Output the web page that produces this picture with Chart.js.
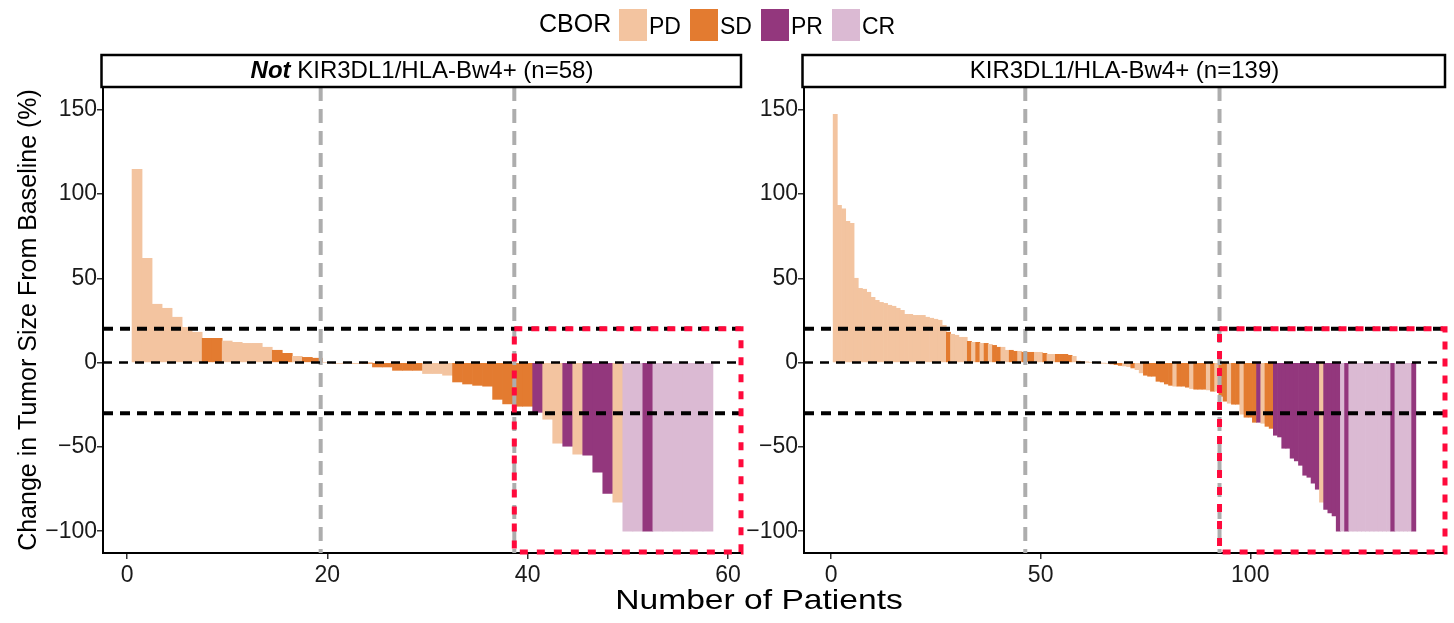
<!DOCTYPE html>
<html lang="en">
<head>
<meta charset="UTF-8">
<title>CBOR waterfall</title>
<script src="https://cdn.jsdelivr.net/npm/chart.js@4.4.1/dist/chart.umd.min.js"></script>
<style>
    body {
        margin: 0;
        background: #fff;
        font-family: 'Liberation Sans', Arial, Helvetica, sans-serif;
    }
    #wrap {
        position: relative;
        width: 1454px;
        height: 623px;
        overflow: hidden;
    }
    #leftChart { position: absolute; left: 0; top: 0; }
    #rightChart { position: absolute; left: 745px; top: 0; }
    #legend {
        position: absolute;
        left: 539px;
        top: 9px;
        display: flex;
        align-items: center;
        height: 32px;
        color: #000;
    }
    #legend .ttl { font-size: 25px; width: 80px; margin-top: -3px; }
    #legend .item { display: flex; align-items: center; width: 71px; }
    #legend .sw { width: 28px; height: 32px; margin-right: 2px; }
    #legend .lab { font-size: 23px; margin-top: 3px; }
    #xTitle {
        position: absolute;
        left: 559px;
        width: 400px;
        top: 584px;
        text-align: center;
        font-size: 28px;
        color: #000;
        transform: scaleX(1.2);
    }
</style>
</head>
<body>
<div id="wrap">
    <canvas id="leftChart" width="746" height="623"></canvas>
    <canvas id="rightChart" width="709" height="623"></canvas>
    <div id="legend"></div>
    <div id="xTitle">Number of Patients</div>
</div>

<script>
    // response categories and colours
    const responses = ['PD', 'SD', 'PR', 'CR'];
    const responseColors = ['#F3C4A0', '#E37B30', '#93377D', '#DBBAD3'];

    // Not KIR3DL1/HLA-Bw4+ (n=58): % change per patient, sorted
    const leftValues = [
        114.6, 61.8, 34.6, 32.2, 26.9, 20.9, 18.0, 14.4, 14.4, 12.8,
        12.0, 11.4, 11.4, 9.1, 7.3, 5.5, 3.7, 3.1, 2.6, 0,
        -0.5, -0.3, -0.6, -0.2, -2.6, -2.6, -4.6, -4.6, -4.6, -6.5,
        -6.5, -7.5, -11.5, -12.7, -13.5, -14.0, -21.8, -24.5, -25.9, -25.9,
        -29.5, -33.6, -47.8, -49.6, -54.3, -54.9, -65.0, -77.5, -82.8, -100,
        -100, -100, -100, -100, -100, -100, -100, -100
    ];
    const leftResp = [
        'PD','PD','PD','PD','PD','PD','PD','SD','SD','PD',
        'PD','PD','PD','PD','SD','SD','PD','SD','SD','PD',
        'PD','PD','PD','SD','SD','SD','SD','SD','SD','PD',
        'PD','PD','SD','SD','SD','SD','SD','SD','SD','SD',
        'PR','PD','PD','PR','PD','PR','PR','PR','PD','CR',
        'CR','PR','CR','CR','CR','CR','CR','CR'
    ];

    // KIR3DL1/HLA-Bw4+ (n=139)
    const rightValues = [
        147.2, 93.2, 91.1, 83.8, 82.6, 50.0, 44.0, 43.5, 41.7, 38.7,
        36.9, 35.7, 35.1, 34.0, 33.4, 32.2, 31.0, 28.6, 28.6, 28.0,
        28.0, 28.0, 26.9, 26.3, 25.7, 25.1, 22.1, 18.0, 16.8, 16.2,
        15.0, 15.0, 12.6, 12.0, 12.0, 11.4, 11.4, 10.8, 10.2, 9.1,
        9.1, 7.3, 7.3, 6.7, 6.7, 6.1, 6.1, 6.1, 6.1, 6.1,
        5.5, 4.9, 4.9, 4.9, 4.9, 4.9, 4.3, 3.7, 0.8, 0.5,
        0.2, 0, 0, -0.2, -0.3, -0.5, -0.8, -1.2, -1.7, -2.0,
        -2.4, -3.2, -4.2, -6.1, -7.5, -8.1, -8.1, -11.1, -11.5, -12.7,
        -13.5, -14.0, -14.0, -14.0, -14.6, -15.4, -15.8, -15.8, -15.8, -16.2,
        -17.0, -17.0, -20.0, -22.9, -24.1, -24.7, -24.7, -30.6, -32.4, -32.4,
        -35.4, -35.4, -36.0, -37.8, -39.0, -43.1, -44.1, -50.8, -50.8, -56.7,
        -58.3, -60.9, -66.8, -68.0, -71.5, -75.1, -82.8, -87.0, -89.1, -90.9,
        -100, -100, -100, -100, -100, -100, -100, -100, -100, -100,
        -100, -100, -100, -100, -100, -100, -100, -100, -100
    ];
    const rightResp = [
        'PD','PD','PD','PD','PD','PD','PD','PD','PD','PD',
        'PD','PD','PD','PD','PD','PD','PD','PD','PD','PD',
        'PD','PD','PD','PD','PD','PD','PD','SD','PD','PD',
        'PD','PD','SD','PD','SD','PD','SD','PD','SD','SD',
        'PD','PD','SD','SD','PD','SD','SD','SD','PD','PD',
        'SD','PD','PD','SD','SD','SD','SD','PD','SD','SD',
        'PD','PD','PD','PD','PD','PD','SD','SD','SD','PD',
        'PD','SD','PD','PD','SD','SD','SD','SD','SD','SD',
        'SD','PD','SD','SD','SD','PD','SD','SD','SD','PD',
        'SD','PD','SD','SD','PD','SD','SD','PD','SD','SD',
        'SD','PR','PD','SD','SD','PR','PR','PR','PR','PR',
        'PR','PR','PR','PR','PR','PR','PD','PR','PR','PR',
        'PR','CR','PR','CR','CR','CR','CR','CR','CR','CR',
        'CR','CR','CR','PR','CR','CR','CR','CR','PR'
    ];

    const leftXTicks = [0, 20, 40, 60];
    const rightXTicks = [0, 50, 100];
    const yTicks = [-100, -50, 0, 50, 100, 150];
    const refLines = [20, 0, -30];

    Chart.defaults.font.family = "'Liberation Sans', Arial, Helvetica, sans-serif";
    Chart.defaults.color = '#1a1a1a';

    // legend
    const legend = document.getElementById('legend');
    legend.innerHTML = '<span class="ttl">CBOR</span>' + responses.map((r, i) =>
        `<span class="item"><span class="sw" style="background:${responseColors[i]}"></span><span class="lab">${r}</span></span>`
    ).join('');

    const overlay = {
        id: 'overlay',
        afterDatasetsDraw(chart, args, opts) {
            const { ctx, chartArea: a, scales: { x, y } } = chart;
            ctx.save();
            // tertile lines
            ctx.strokeStyle = '#ADADAD';
            ctx.lineWidth = 4;
            ctx.setLineDash([14, 8]);
            [opts.n / 3, 2 * opts.n / 3].forEach(t => {
                const px = x.getPixelForValue(t);
                ctx.beginPath();
                ctx.moveTo(px, a.top);
                ctx.lineTo(px, a.bottom);
                ctx.stroke();
            });
            // reference lines
            ctx.strokeStyle = '#000';
            refLines.forEach(v => {
                ctx.lineWidth = v === 0 ? 2.5 : 4;
                ctx.setLineDash(v === 0 ? [9, 7] : [10, 7]);
                const py = y.getPixelForValue(v);
                ctx.beginPath();
                ctx.moveTo(a.left, py);
                ctx.lineTo(a.right, py);
                ctx.stroke();
            });
            // responder box
            const x0 = x.getPixelForValue(2 * opts.n / 3);
            const x1 = x.getPixelForValue(x.max);
            const y0 = y.getPixelForValue(refLines[0]);
            const y1 = y.getPixelForValue(y.min) - 1;
            ctx.strokeStyle = '#FF0A3C';
            ctx.lineWidth = 5;
            ctx.setLineDash([8, 9]);
            ctx.strokeRect(x0, y0, x1 - x0, y1 - y0);
            ctx.restore();
        },
        afterDraw(chart, args, opts) {
            const { ctx, chartArea: a } = chart;
            ctx.save();
            // facet strip
            ctx.lineWidth = 2.5;
            ctx.strokeStyle = '#000';
            ctx.strokeRect(a.left - 1.5, a.top - 32, a.right - a.left + 1.5, 32);
            const cy = a.top - 16;
            ctx.textBaseline = 'middle';
            ctx.fillStyle = '#000';
            const boldFont = "italic bold 24px 'Liberation Sans', Arial, sans-serif";
            const normFont = "24px 'Liberation Sans', Arial, sans-serif";
            ctx.font = boldFont;
            const w1 = ctx.measureText(opts.strip[0]).width;
            ctx.font = normFont;
            const w2 = ctx.measureText(opts.strip[1]).width;
            let sx = (a.left + a.right) / 2 - (w1 + w2) / 2;
            ctx.textAlign = 'left';
            ctx.font = boldFont;
            ctx.fillText(opts.strip[0], sx, cy);
            ctx.font = normFont;
            ctx.fillText(opts.strip[1], sx + w1, cy);
            ctx.restore();
        }
    };

    function makePanel(id, values, resp, xTicks, xMin, xMax, yWidth, padRight, strip, yTitle) {
        const colorOf = r => responseColors[responses.indexOf(r)];
        return new Chart(document.getElementById(id), {
            type: 'bar',
            data: {
                datasets: [{
                    data: values.map((v, i) => ({ x: i + 1, y: v })),
                    backgroundColor: resp.map(colorOf),
                    borderWidth: 0,
                    barPercentage: 1,
                    categoryPercentage: 1
                }]
            },
            options: {
                responsive: false,
                animation: false,
                layout: { padding: { top: 87, right: padRight, left: 0, bottom: 0 } },
                plugins: {
                    legend: { display: false },
                    tooltip: { enabled: false },
                    overlay: { n: values.length, strip: strip }
                },
                scales: {
                    x: {
                        type: 'linear',
                        min: xMin,
                        max: xMax,
                        offset: false,
                        afterFit: s => { s.height = 70; },
                        afterBuildTicks: s => { s.ticks = xTicks.map(v => ({ value: v })); },
                        grid: { offset: false, drawOnChartArea: false, drawTicks: true, tickLength: 6, color: '#333', lineWidth: 1.5 },
                        border: { display: true, color: '#000', width: 2 },
                        ticks: { font: { size: 23 }, padding: 3, color: '#1a1a1a' }
                    },
                    y: {
                        min: -112.9,
                        max: 163.4,
                        afterFit: s => { s.width = yWidth; },
                        afterBuildTicks: s => { s.ticks = yTicks.map(v => ({ value: v })); },
                        grid: { offset: false, drawOnChartArea: false, drawTicks: true, tickLength: 6, color: '#333', lineWidth: 1.5 },
                        border: { display: true, color: '#000', width: 2 },
                        ticks: {
                            font: { size: 23 },
                            padding: 0,
                            color: '#1a1a1a',
                            callback: v => (v < 0 ? '\u2212' + Math.abs(v) : String(v))
                        },
                        title: {
                            display: !!yTitle,
                            text: yTitle || '',
                            font: { size: 25 },
                            color: '#000',
                            padding: { top: 14, bottom: 0 }
                        }
                    }
                }
            },
            plugins: [overlay]
        });
    }

    makePanel('leftChart', leftValues, leftResp, leftXTicks, -2.4, 61.3, 103, 5,
        ['Not', ' KIR3DL1/HLA-Bw4+ (n=58)'], 'Change in Tumor Size From Baseline (%)');
    makePanel('rightChart', rightValues, rightResp, rightXTicks, -6.45, 146.45, 59, 9,
        ['', 'KIR3DL1/HLA-Bw4+ (n=139)'], null);
</script>
</body>
</html>
